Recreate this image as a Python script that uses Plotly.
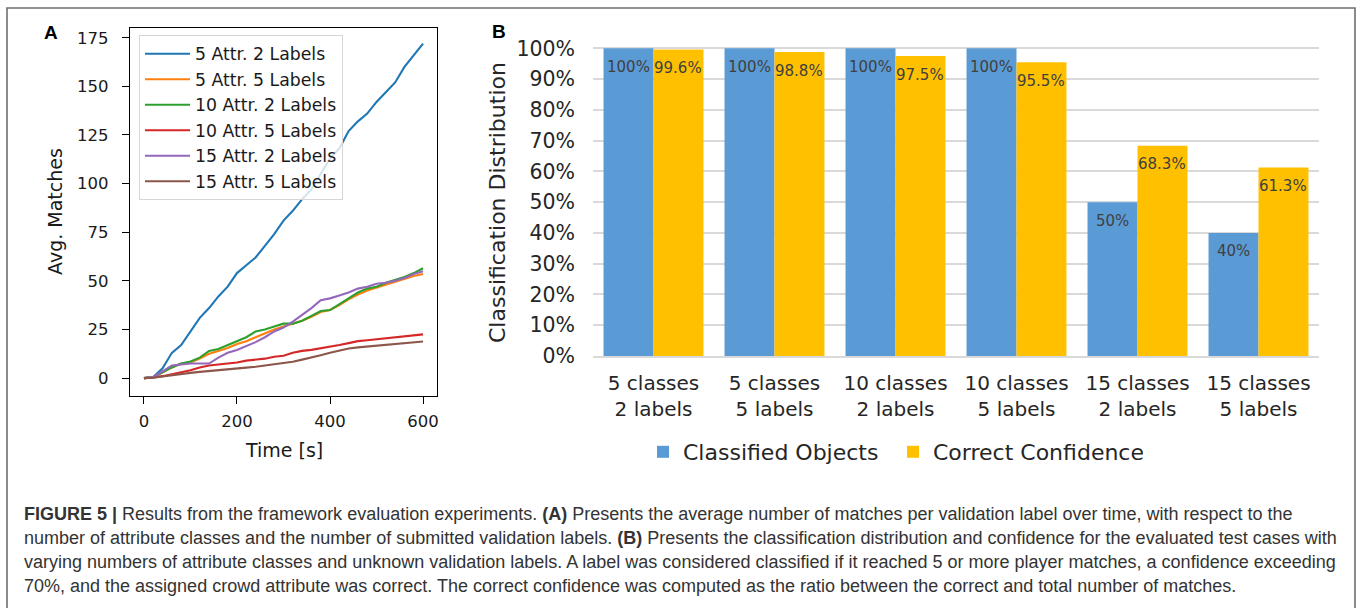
import plotly.graph_objects as go

W, H = 1358, 608


def px(x):
    return x / W


def py(y):
    return 1 - y / H


# ---------------- Panel A: average matches over time ----------------
time_s = list(range(0, 601, 20))

series_names = [
    "5 Attr. 2 Labels",
    "5 Attr. 5 Labels",
    "10 Attr. 2 Labels",
    "10 Attr. 5 Labels",
    "15 Attr. 2 Labels",
    "15 Attr. 5 Labels",
]

attr5_lab2 = [0, 0.5, 5, 13, 17, 24, 31, 36, 42, 47, 54, 58, 62, 68, 74, 81,
              86, 92, 97, 105, 113, 118, 127, 132, 136, 142, 147, 152, 160, 166, 172]
attr5_lab5 = [0, 0.5, 3, 5.5, 7.5, 8, 10, 12.5, 14, 15.5, 17.5, 19, 21, 23, 25, 26.5,
              28, 29.5, 31.5, 34, 35, 37.5, 40.5, 43, 45, 46.5, 48, 49.5, 51, 52.5, 53.5]
attr10_lab2 = [0, 0.5, 3, 5.5, 7.5, 8.5, 10.5, 14, 15, 17, 19, 21, 24, 25, 26.5, 28,
               28, 29.5, 32, 34.5, 35, 38, 41, 44, 46, 47, 49, 50.5, 52, 54, 56.5]
attr10_lab5 = [0, 0.3, 1, 2, 3, 4, 5.5, 6.5, 7, 7.5, 8, 9, 9.5, 10, 11, 11.5,
               13, 14, 14.5, 15.3, 16, 17, 18, 19, 19.5, 20, 20.5, 21, 21.5, 22, 22.5]
attr15_lab2 = [0, 0.5, 3.5, 6.5, 7, 7.5, 7.5, 7.5, 10.5, 13, 14.5, 16.5, 18.5, 21, 24, 26,
               29, 32.5, 36, 40, 41, 42.5, 44, 46, 47, 48.5, 49, 50, 51.5, 53.5, 55]
attr15_lab5 = [0, 0.2, 0.8, 1.5, 2, 2.7, 3.2, 3.7, 4.2, 4.6, 5, 5.4, 5.8, 6.5, 7.3, 7.8,
               8.4, 9.5, 10.5, 11.8, 13, 14, 15.2, 15.8, 16.2, 16.5, 17, 17.5, 18, 18.4, 18.8]

series_values = [attr5_lab2, attr5_lab5, attr10_lab2, attr10_lab5, attr15_lab2, attr15_lab5]
line_colors = ["#1f77b4", "#ff7f0e", "#2ca02c", "#d62728", "#9467bd", "#8c564b"]

x_ticks_a = [0, 200, 400, 600]
y_ticks_a = [0, 25, 50, 75, 100, 125, 150, 175]

# ---------------- Panel B: classification distribution ----------------
categories = [
    "5 classes<br>2 labels",
    "5 classes<br>5 labels",
    "10 classes<br>2 labels",
    "10 classes<br>5 labels",
    "15 classes<br>2 labels",
    "15 classes<br>5 labels",
]
classified_objects = [1.00, 1.00, 1.00, 1.00, 0.50, 0.40]
correct_confidence = [0.996, 0.988, 0.975, 0.955, 0.683, 0.613]
y_ticks_b = [i / 10 for i in range(11)]

caption_lines = [
    "<b>FIGURE 5 |</b> Results from the framework evaluation experiments. <b>(A)</b> Presents the average "
    "number of matches per validation label over time, with respect to the",
    "number of attribute classes and the number of submitted validation labels. <b>(B)</b> Presents the "
    "classification distribution and confidence for the evaluated test cases with",
    "varying numbers of attribute classes and unknown validation labels. A label was considered classified "
    "if it reached 5 or more player matches, a confidence exceeding",
    "70%, and the assigned crowd attribute was correct. The correct confidence was computed as the ratio "
    "between the correct and total number of matches.",
]

MPL_FONT = "DejaVu Sans"
XL_FONT = "DejaVu Sans"
CAP_FONT = "Liberation Sans"

# plot-area boxes (pixels)
A_LEFT, A_RIGHT, A_TOP, A_BOTTOM = 130, 437, 28, 396
B_LEFT, B_RIGHT, B_TOP, B_BOTTOM = 593, 1319, 47.1, 356
B_YMAX = 1.004
B_GAP = 0.174

fig = go.Figure()

for name, vals, col in zip(series_names, series_values, line_colors):
    fig.add_trace(go.Scatter(
        x=time_s, y=vals, name=name, mode="lines",
        line=dict(color=col, width=2.1),
        xaxis="x", yaxis="y", legend="legend",
    ))

fig.add_trace(go.Bar(
    x=categories, y=classified_objects, name="Classified Objects",
    marker=dict(color="#5B9BD5", line=dict(width=0)),
    xaxis="x2", yaxis="y2", legend="legend2",
))
fig.add_trace(go.Bar(
    x=categories, y=correct_confidence, name="Correct Confidence",
    marker=dict(color="#FFC000", line=dict(width=0)),
    xaxis="x2", yaxis="y2", legend="legend2",
))


def pct(v):
    return f"{v * 100:g}%"


cat_w = (B_RIGHT - B_LEFT) / len(categories)
bar_w = cat_w * (1 - B_GAP) / 2
annotations = []
for cat, v1, v2 in zip(categories, classified_objects, correct_confidence):
    for v, shift in ((v1, -bar_w / 2), (v2, bar_w / 2)):
        annotations.append(dict(
            x=cat, y=v, xref="x2", yref="y2", text=pct(v), showarrow=False,
            xshift=shift, yshift=-18.5, xanchor="center", yanchor="middle",
            font=dict(family=XL_FONT, size=15, color="#404040"),
        ))


def paper_text(x, y, text, size, family, color, angle=0, xanchor="center"):
    return dict(x=px(x), y=py(y), xref="paper", yref="paper", text=text,
                textangle=angle, showarrow=False, xanchor=xanchor, yanchor="middle",
                font=dict(family=family, size=size, color=color))


# axis titles and panel letters
annotations += [
    paper_text(55, (A_TOP + A_BOTTOM) / 2, "Avg. Matches", 19, MPL_FONT, "#1a1a1a", angle=-90),
    paper_text((A_LEFT + A_RIGHT) / 2, 450, "Time [s]", 19, MPL_FONT, "#1a1a1a"),
    paper_text(497, 202, "Classification Distribution", 22, XL_FONT, "#262626", angle=-90),
    paper_text(51, 33, "<b>A</b>", 19, "Liberation Sans", "#000000"),
    paper_text(499, 32, "<b>B</b>", 19, "Liberation Sans", "#000000"),
]

cap_y = [514, 538, 562, 586]
for line, yy in zip(caption_lines, cap_y):
    annotations.append(paper_text(22, yy, line, 18, CAP_FONT, "#333333", xanchor="left"))

frame = dict(
    type="path", xref="paper", yref="paper",
    path=f"M {px(7)},0 L {px(7)},{py(8)} L {px(1355)},{py(8)} L {px(1355)},0",
    line=dict(color="#6e6e6e", width=1.6),
)

fig.update_layout(
    width=W, height=H,
    margin=dict(l=0, r=0, t=0, b=0, autoexpand=False),
    paper_bgcolor="white", plot_bgcolor="white",
    barmode="group", bargap=B_GAP, bargroupgap=0,
    xaxis=dict(
        domain=[px(A_LEFT), px(A_RIGHT)], range=[-30, 630], automargin=False,
        tickvals=x_ticks_a, ticks="outside", ticklen=7, tickwidth=1.2, tickcolor="#000",
        showline=True, mirror=True, linecolor="#000", linewidth=1.3,
        showgrid=False, zeroline=False, ticklabelstandoff=3,
        tickfont=dict(family=MPL_FONT, size=16.5, color="#1a1a1a"), anchor="y",
    ),
    yaxis=dict(
        domain=[py(A_BOTTOM), py(A_TOP)], range=[-9.2, 180], automargin=False,
        tickvals=y_ticks_a, ticks="outside", ticklen=7, tickwidth=1.2, tickcolor="#000",
        showline=True, mirror=True, linecolor="#000", linewidth=1.3,
        showgrid=False, zeroline=False, ticklabelstandoff=10,
        tickfont=dict(family=MPL_FONT, size=16.5, color="#1a1a1a"), anchor="x",
    ),
    xaxis2=dict(
        domain=[px(B_LEFT), px(B_RIGHT)], type="category", automargin=False,
        showline=True, linecolor="#d9d9d9", linewidth=2,
        ticks="", showgrid=False, zeroline=False, ticklabelstandoff=8,
        tickfont=dict(family=XL_FONT, size=20, color="#262626"), anchor="y2",
    ),
    yaxis2=dict(
        domain=[py(B_BOTTOM), py(B_TOP)], range=[0, B_YMAX], automargin=False,
        tickvals=y_ticks_b, tickformat=".0%",
        showgrid=True, gridcolor="#d9d9d9", gridwidth=1.8,
        showline=False, zeroline=False, ticks="", ticklabelstandoff=17,
        tickfont=dict(family=XL_FONT, size=20.5, color="#262626"), anchor="x2",
    ),
    legend=dict(
        x=px(139), y=py(35), xanchor="left", yanchor="top", itemwidth=45,
        bgcolor="rgba(255,255,255,0.8)", bordercolor="#d6d6d6", borderwidth=1,
        font=dict(family=MPL_FONT, size=17.3, color="#1a1a1a"),
    ),
    legend2=dict(
        orientation="h", x=px(643), y=py(452), xanchor="left", yanchor="middle",
        bgcolor="rgba(0,0,0,0)", entrywidth=205, entrywidthmode="pixels",
        font=dict(family=XL_FONT, size=22, color="#262626"),
    ),
    showlegend=True,
    annotations=annotations,
    shapes=[frame],
)

fig.write_html("out.html")
